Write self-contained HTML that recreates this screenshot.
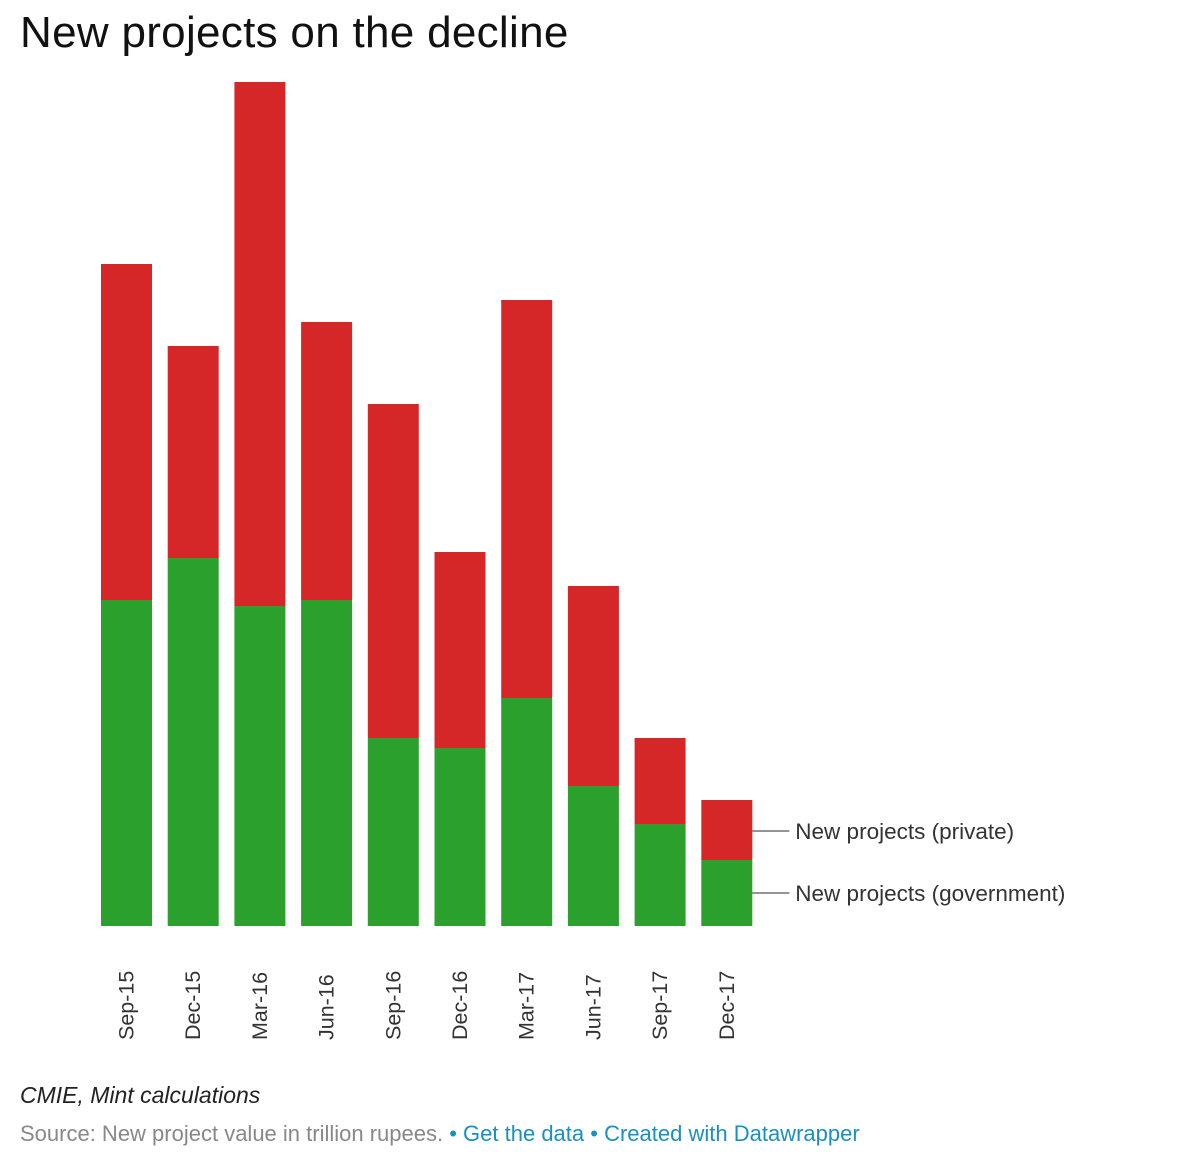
<!DOCTYPE html>
<html><head><meta charset="utf-8"><style>
body{margin:0;background:#fff;width:1200px;height:1163px;overflow:hidden;font-family:"Liberation Sans",sans-serif;}
#title{position:absolute;left:20px;top:8px;font-size:44px;color:#111;letter-spacing:0.3px;}
#notes{position:absolute;left:20px;top:1082px;font-size:23px;font-style:italic;color:#222;}
#footer{position:absolute;left:20px;top:1121px;font-size:22px;color:#888;}
#footer a{color:#1a8fc1;text-decoration:none;}
svg{position:absolute;left:0;top:0;}
</style></head><body>
<div id="title">New projects on the decline</div>
<svg id="chart" width="1200" height="1163"></svg>
<div id="notes">CMIE, Mint calculations</div>
<div id="footer">Source: New project value in trillion rupees. <span style="color:#1a8fc1">•</span> <a>Get the data</a> <span style="color:#1a8fc1">•</span> <a>Created with Datawrapper</a></div>
<script>
const categories=["Sep-15","Dec-15","Mar-16","Jun-16","Sep-16","Dec-16","Mar-17","Jun-17","Sep-17","Dec-17"];
const government=[1.63,1.84,1.60,1.63,0.94,0.89,1.14,0.70,0.51,0.33];
const privateVals=[1.68,1.06,2.62,1.39,1.67,0.98,1.99,1.00,0.43,0.30];
const seriesNames=["New projects (private)","New projects (government)"];
const NS="http://www.w3.org/2000/svg";
const svg=document.getElementById('chart');
const baseY=926,pxPerUnit=200,x0=101,step=66.7,bw=51;
function y(v){return baseY-v*pxPerUnit;}
function xb(i){return x0+i*step;}
function mk(t,a){const e=document.createElementNS(NS,t);for(const k in a)e.setAttribute(k,a[k]);svg.appendChild(e);return e;}
categories.forEach((c,i)=>{
  const g=government[i],p=privateVals[i];
  let r=mk('rect',{x:xb(i),y:y(g),width:bw,height:baseY-y(g),fill:'#2ca02c'});
  
  
  r=mk('rect',{x:xb(i),y:y(g+p),width:bw,height:y(g)-y(g+p),fill:'#d62728'});
  
  
  const cx=xb(i)+bw/2+7;
  const t=mk('text',{x:cx,y:1040,transform:'rotate(-90 '+cx+' 1040)','font-size':21.5,fill:'#333','text-anchor':'start'});
  t.textContent=c;
  
  
});
const last=categories.length-1;
const lx=xb(last)+bw;
const gL=government[last],pL=privateVals[last];
[[seriesNames[0],(y(gL)+y(gL+pL))/2+1],[seriesNames[1],(baseY+y(gL))/2]].forEach(([n,ly])=>{
  const l=mk('line',{x1:lx,x2:lx+37,y1:ly,y2:ly,stroke:'#555','stroke-width':1.2});
  
  
  const t=mk('text',{x:lx+43,y:ly+8,'font-size':22.5,fill:'#333'});
  t.textContent=n;
  
  
});
</script>
</body></html>
